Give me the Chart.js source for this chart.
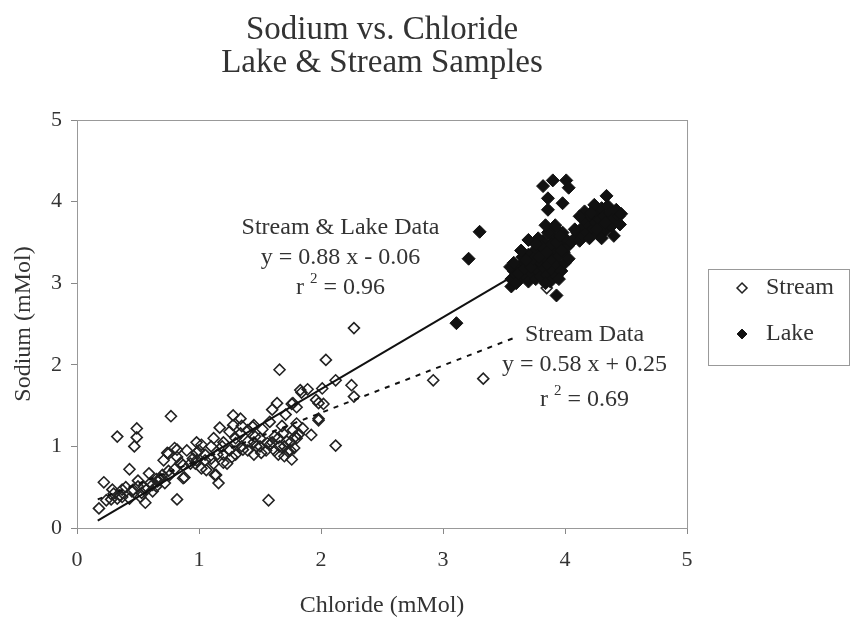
<!DOCTYPE html>
<html>
<head>
<meta charset="utf-8">
<script src="https://cdn.jsdelivr.net/npm/chart.js@4.4.1/dist/chart.umd.min.js"></script>
<style>
  html, body { margin: 0; padding: 0; background: #fff; }
  #wrap { width: 852px; height: 622px; }
</style>
</head>
<body>
<div id="wrap"><canvas id="scatterChart" width="852" height="622"></canvas></div>
<script>
// chloride (x) / sodium (y), mMol
const streamPoints = [
  [0.18,0.24],[0.24,0.34],[0.22,0.56],[0.29,0.47],[0.37,0.47],[0.33,0.36],[0.43,0.36],[0.46,0.47],
  [0.50,0.51],[0.56,0.31],[0.57,0.47],[0.59,0.67],[0.53,0.43],[0.65,0.51],[0.68,0.59],[0.72,0.55],
  [0.76,0.65],[0.82,0.35],[0.43,0.72],[0.33,1.12],[0.49,1.22],[0.49,1.11],[0.47,1.00],[0.77,1.37],
  [0.71,0.83],[0.74,0.92],[0.80,0.98],[0.82,0.87],[0.88,0.62],[0.87,0.77],[0.93,0.79],[0.98,1.05],
  [0.98,0.92],[0.97,0.79],[1.02,0.73],[1.05,0.83],[1.06,0.71],[1.14,0.65],[1.16,0.55],[1.12,0.79],
  [1.17,1.23],[1.19,1.00],[1.20,0.90],[1.23,0.79],[1.27,0.87],[1.28,1.38],[1.34,1.34],[1.28,1.26],
  [1.30,1.04],[1.34,1.16],[1.36,0.96],[1.40,1.06],[1.44,1.24],[1.46,1.12],[1.47,1.00],[1.52,1.21],
  [1.51,0.92],[1.56,1.04],[1.57,0.34],[1.58,1.02],[1.60,1.45],[1.64,1.53],[1.62,1.12],[1.66,1.00],
  [1.66,1.94],[1.71,1.39],[1.69,1.16],[1.72,1.06],[1.73,0.94],[1.76,1.52],[1.76,0.84],[1.77,1.20],
  [1.79,1.12],[1.80,1.48],[1.80,1.28],[1.84,1.66],[1.85,1.22],[1.89,1.70],[1.92,1.14],[1.96,1.57],
  [1.98,1.34],[2.01,1.71],[2.02,1.52],[2.04,2.06],[2.12,1.81],[2.12,1.01],[2.25,1.75],[2.27,1.61],
  [2.27,2.45],[2.92,1.81],[3.33,1.83],[3.85,2.94],
  [1.00,0.95],[1.05,0.90],[1.10,0.85],[1.10,1.00],[1.15,0.90],[1.20,1.05],[1.25,0.95],[1.30,0.90],
  [1.30,1.10],[1.35,1.00],[1.40,0.95],[1.45,1.05],[1.50,1.00],[1.50,1.10],[1.55,0.95],[1.60,1.05],
  [1.65,0.90],[1.70,1.00],[1.75,1.05],[1.80,1.10],[1.75,0.95],[1.65,1.10],[1.20,0.80],[0.95,0.85],
  [0.90,0.95],[0.85,0.80],[0.60,0.55],[0.65,0.60],[0.55,0.50],[0.45,0.45],[0.40,0.50],[0.35,0.40],
  [0.30,0.42],[0.28,0.35],[0.50,0.58],[0.75,0.70],[0.80,0.72],[0.70,0.65],[1.02,1.02],[1.12,1.10],
  [1.40,1.20],[1.45,0.90],[1.62,0.95],[1.70,0.88],[1.78,0.98],[1.82,1.15],[1.68,1.25],[1.58,1.30],
  [1.35,1.25],[1.25,1.18],[0.82,0.96],[0.75,0.91],[0.68,0.61],[0.87,0.61],[0.98,0.83],[0.62,0.53],
  [0.66,0.57],[0.52,0.38],[0.37,0.38],[0.62,0.45],[1.45,1.26],[1.98,1.32],[1.77,1.53],[1.83,1.69],
  [1.98,1.53],[1.13,0.65]
];

const lakePoints = [
  [3.11,2.51],[3.21,3.30],[3.30,3.63],[3.56,2.96],[3.93,2.85],
  [3.82,4.19],[3.90,4.26],[4.01,4.26],[4.03,4.17],[3.86,4.04],[3.98,3.98],[3.86,3.90],[4.34,4.07],
  [3.56,3.05],[3.58,3.15],[3.60,3.10],[3.62,3.20],[3.63,3.05],[3.65,3.14],[3.66,3.25],[3.68,3.08],
  [3.70,3.18],[3.70,3.02],[3.72,3.28],[3.73,3.12],[3.75,3.22],[3.76,3.05],[3.77,3.35],[3.78,3.15],
  [3.80,3.25],[3.80,3.08],[3.82,3.40],[3.83,3.18],[3.84,3.30],[3.85,3.10],[3.86,3.22],[3.87,3.45],
  [3.88,3.35],[3.88,3.02],[3.90,3.15],[3.90,3.28],[3.91,3.55],[3.92,3.40],[3.93,3.08],[3.94,3.22],
  [3.95,3.33],[3.96,3.48],[3.97,3.15],[3.98,3.62],[3.99,3.38],[4.00,3.25],[4.02,3.45],[4.03,3.30],
  [3.75,3.40],[3.70,3.35],[3.65,3.32],[3.82,3.52],[3.86,3.62],[3.92,3.68],[3.78,3.55],[3.60,3.00],
  [3.84,3.00],[3.95,3.05],[3.70,3.53],[3.84,3.71],[3.92,3.71],[3.55,3.20],
  [3.62,3.12],[3.67,3.18],[3.72,3.20],[3.74,3.30],[3.79,3.32],[3.81,3.45],[3.85,3.38],[3.89,3.48],
  [3.93,3.50],[3.97,3.40],[4.00,3.55],[3.68,3.28],[3.76,3.48],[3.58,3.25],[3.64,3.40],[3.96,3.58],
  [4.05,3.50],[4.08,3.55],[4.10,3.62],[4.12,3.52],[4.14,3.68],[4.15,3.58],[4.17,3.75],[4.18,3.62],
  [4.20,3.70],[4.20,3.55],[4.22,3.80],[4.23,3.66],[4.25,3.74],[4.26,3.88],[4.27,3.60],[4.28,3.78],
  [4.30,3.70],[4.30,3.92],[4.32,3.82],[4.33,3.65],[4.35,3.76],[4.35,3.95],[4.37,3.86],[4.38,3.70],
  [4.40,3.80],[4.40,3.58],[4.42,3.90],[4.44,3.82],[4.46,3.85],[4.16,3.88],[4.24,3.96],[4.12,3.82],
  [4.30,3.55],[4.45,3.72],[4.21,3.86],[4.26,3.66],[4.33,3.74],[4.08,3.66]
];

// regression end points
const streamLakeFit = [[0.17, 0.09], [4.45, 3.86]];
const streamFit = [[0.17, 0.35], [3.60, 2.34]];

const axisTicks = [0, 1, 2, 3, 4, 5];

const bothFitText = ["Stream & Lake Data", "y = 0.88 x - 0.06", "0.96"];
const streamFitText = ["Stream Data", "y = 0.58 x + 0.25", "0.69"];

const SERIF = '"Liberation Serif", "Times New Roman", serif';
const toXY = pts => pts.map(([x, y]) => ({ x, y }));

function drawR2(ctx, cx, cy, value) {
  const big = "24px " + SERIF;
  const small = "15px " + SERIF;
  ctx.font = big;
  const wr = ctx.measureText("r ").width;
  const wRest = ctx.measureText(" = " + value).width;
  ctx.font = small;
  const w2 = ctx.measureText("2").width;
  let x = cx - (wr + w2 + wRest) / 2;
  ctx.textAlign = "left";
  ctx.font = big;
  ctx.fillText("r", x, cy);
  x += wr;
  ctx.font = small;
  ctx.fillText("2", x, cy - 9);
  x += w2;
  ctx.font = big;
  ctx.fillText(" = " + value, x, cy);
}

// box round the plot area
const plotFrame = {
  id: "plotFrame",
  beforeDatasetsDraw(chart) {
    const { ctx, chartArea: a } = chart;
    ctx.save();
    ctx.strokeStyle = "#999";
    ctx.lineWidth = 1;
    ctx.strokeRect(a.left + 0.5, a.top + 0.5, a.right - a.left, a.bottom - a.top);
    ctx.restore();
  }
};

// box round the legend
const legendFrame = {
  id: "legendFrame",
  afterDraw(chart) {
    const lg = chart.legend;
    if (!lg || !lg.legendHitBoxes.length) return;
    const hb = lg.legendHitBoxes;
    const top = hb[0].top - 7;
    const last = hb[hb.length - 1];
    const bottom = last.top + last.height + 19;
    const { ctx } = chart;
    ctx.save();
    ctx.strokeStyle = "#999";
    ctx.lineWidth = 1;
    ctx.strokeRect(lg.left + 0.5, top + 0.5, chart.width - 3 - lg.left, bottom - top);
    ctx.restore();
  }
};

// regression labels
const fitLabels = {
  id: "fitLabels",
  afterDatasetsDraw(chart) {
    const { ctx, scales: { x, y } } = chart;
    ctx.save();
    ctx.fillStyle = "#333";
    ctx.textBaseline = "middle";

    ctx.textAlign = "center";
    ctx.font = "24px " + SERIF;
    let cx = x.getPixelForValue(2.16);
    ctx.fillText(bothFitText[0], cx, y.getPixelForValue(3.68));
    ctx.fillText(bothFitText[1], cx, y.getPixelForValue(3.31));
    drawR2(ctx, cx, y.getPixelForValue(2.94), bothFitText[2]);

    ctx.textAlign = "center";
    ctx.font = "24px " + SERIF;
    cx = x.getPixelForValue(4.16);
    ctx.fillText(streamFitText[0], cx, y.getPixelForValue(2.37));
    ctx.fillText(streamFitText[1], cx, y.getPixelForValue(2.00));
    drawR2(ctx, cx, y.getPixelForValue(1.57), streamFitText[2]);
    ctx.restore();
  }
};

const tickStyle = {
  min: 0,
  max: 5,
  afterBuildTicks: scale => { scale.ticks = axisTicks.map(v => ({ value: v })); },
  grid: { drawOnChartArea: false, drawTicks: true, tickLength: 6, color: "#888" },
  border: { color: "#888", width: 1 }
};

const scatterChart = document.querySelector("#scatterChart");
const chart = new Chart(scatterChart, {
  type: "scatter",
  data: {
    datasets: [
      {
        label: "Stream",
        data: toXY(streamPoints),
        pointStyle: "rectRot",
        pointRadius: 5.5,
        backgroundColor: "rgba(0,0,0,0)",
        borderColor: "#222",
        borderWidth: 1.6,
        order: 4
      },
      {
        label: "Lake",
        data: toXY(lakePoints),
        pointStyle: "rectRot",
        pointRadius: 6.5,
        backgroundColor: "#111",
        borderColor: "#111",
        borderWidth: 1,
        order: 1
      },
      {
        label: "fit all",
        data: toXY(streamLakeFit),
        showLine: true,
        pointRadius: 0,
        borderColor: "#111",
        borderWidth: 2,
        fill: false,
        order: 2
      },
      {
        label: "fit stream",
        data: toXY(streamFit),
        showLine: true,
        pointRadius: 0,
        borderColor: "#111",
        borderWidth: 2,
        borderDash: [5, 6],
        fill: false,
        order: 3
      }
    ]
  },
  options: {
    responsive: false,
    animation: false,
    layout: { padding: { top: 0, right: 8, bottom: 0, left: 0 } },
    scales: {
      x: {
        type: "linear",
        position: "bottom",
        ...tickStyle,
        ticks: { color: "#333", padding: 13, font: { family: SERIF, size: 22 } },
        title: {
          display: true,
          text: "Chloride (mMol)",
          color: "#333",
          font: { family: SERIF, size: 24 },
          padding: { top: 0, bottom: 2 }
        },
        afterFit: scale => { scale.height = 94; }
      },
      y: {
        type: "linear",
        position: "left",
        ...tickStyle,
        ticks: { color: "#333", padding: 9, font: { family: SERIF, size: 22 } },
        title: {
          display: true,
          text: "Sodium (mMol)",
          color: "#333",
          font: { family: SERIF, size: 24 },
          padding: { top: 9, bottom: 0 }
        },
        afterFit: scale => { scale.width = 77; }
      },
      // spacer between plot and legend
      y2: {
        type: "linear",
        position: "right",
        display: true,
        grid: { display: false },
        border: { display: false },
        ticks: { display: false },
        afterFit: scale => { scale.width = 21; }
      }
    },
    plugins: {
      title: {
        display: true,
        text: ["Sodium vs. Chloride", "Lake & Stream Samples"],
        color: "#333",
        font: { family: SERIF, size: 33, weight: "normal", lineHeight: "33px" },
        fullSize: false,
        padding: { top: 14, bottom: 40 }
      },
      legend: {
        position: "right",
        labels: {
          usePointStyle: true,
          boxWidth: 24,
          boxHeight: 7,
          padding: 22,
          color: "#333",
          font: { family: SERIF, size: 24 },
          filter: item => item.text === "Stream" || item.text === "Lake",
          sort: (a, b) => a.datasetIndex - b.datasetIndex
        }
      },
      tooltip: { enabled: false }
    }
  },
  plugins: [plotFrame, legendFrame, fitLabels]
});
</script>
</body>
</html>
